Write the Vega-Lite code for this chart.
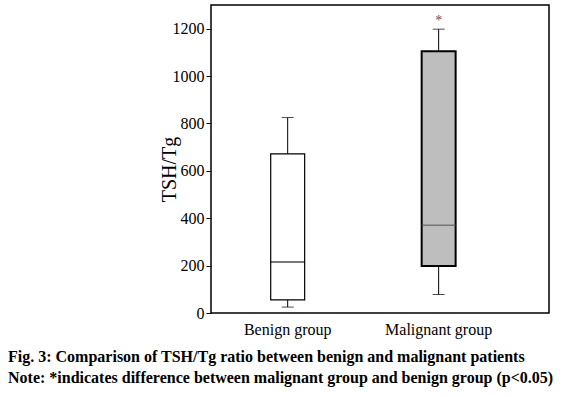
{
  "$schema": "https://vega.github.io/schema/vega-lite/v6.json",
  "autosize": {"type": "none"},
  "width": 338,
  "height": 308,
  "padding": {"left": 211, "top": 5, "right": 15, "bottom": 84},
  "background": "white",
  "config": {
    "view": {"stroke": "black", "strokeWidth": 1.5},
    "font": "Liberation Serif"
  },
  "title": {
    "text": ["Fig. 3: Comparison of TSH/Tg ratio between benign and malignant patients", "Note: *indicates difference between malignant group and benign group (p<0.05)"],
    "orient": "bottom",
    "anchor": "start",
    "frame": "group",
    "dx": -203,
    "offset": 12,
    "font": "Liberation Serif",
    "fontSize": 16,
    "fontWeight": "bold",
    "color": "black",
    "lineHeight": 21
  },
  "data": {
    "values": [
      {"group": "Benign group", "min": 25, "q1": 55, "median": 215, "q3": 672, "max": 825, "star": null},
      {"group": "Malignant group", "min": 78, "q1": 198, "median": 370, "q3": 1105, "max": 1198, "star": 1232}
    ]
  },
  "encoding": {
    "x": {
      "field": "group",
      "type": "nominal",
      "sort": ["Benign group", "Malignant group"],
      "scale": {"type": "band", "paddingInner": 0.775, "paddingOuter": 0.507, "align": 0.39},
      "axis": {
        "title": null,
        "labelAngle": 0,
        "ticks": false,
        "domain": false,
        "labelPadding": 8,
        "labelFont": "Liberation Serif",
        "labelFontSize": 16,
        "labelColor": "black"
      }
    }
  },
  "layer": [
    {
      "mark": {"type": "rule", "color": "black", "strokeWidth": 1},
      "encoding": {
        "y": {
          "field": "min",
          "type": "quantitative",
          "scale": {"domain": [0, 1300], "nice": false},
          "axis": {
            "title": "TSH/Tg",
            "values": [0, 200, 400, 600, 800, 1000, 1200],
            "format": "d",
            "grid": false,
            "domain": false,
            "tickSize": 5,
            "tickColor": "black",
            "labelFont": "Liberation Serif",
            "labelFontSize": 16,
            "labelColor": "black",
            "labelPadding": 2,
            "titleFont": "Liberation Serif",
            "titleFontSize": 20,
            "titleFontWeight": "normal",
            "titleColor": "black",
            "titleX": -36,
            "titleY": 164,
            "titleAngle": -90,
            "titleAlign": "center",
            "titleBaseline": "alphabetic"
          }
        },
        "y2": {"field": "max"}
      }
    },
    {
      "mark": {"type": "bar", "stroke": "black"},
      "encoding": {
        "y": {"field": "q1", "type": "quantitative"},
        "y2": {"field": "q3"},
        "fill": {
          "field": "group",
          "type": "nominal",
          "scale": {"domain": ["Benign group", "Malignant group"], "range": ["#ffffff", "#bebebe"]},
          "legend": null
        },
        "strokeWidth": {
          "field": "group",
          "type": "nominal",
          "scale": {"domain": ["Benign group", "Malignant group"], "range": [1.2, 2]},
          "legend": null
        }
      }
    },
    {
      "mark": {"type": "tick", "size": 34, "thickness": 1.5},
      "encoding": {
        "y": {"field": "median", "type": "quantitative"},
        "color": {
          "field": "group",
          "type": "nominal",
          "scale": {"domain": ["Benign group", "Malignant group"], "range": ["#000000", "#555555"]},
          "legend": null
        }
      }
    },
    {
      "mark": {"type": "tick", "size": 12, "thickness": 1, "color": "black"},
      "encoding": {"y": {"field": "min", "type": "quantitative"}}
    },
    {
      "mark": {"type": "tick", "size": 12, "thickness": 1, "color": "black"},
      "encoding": {"y": {"field": "max", "type": "quantitative"}}
    },
    {
      "transform": [{"filter": "datum.star != null"}],
      "mark": {"type": "text", "text": "*", "fontSize": 14, "font": "Liberation Serif", "fill": "#555555", "baseline": "middle"},
      "encoding": {"y": {"field": "star", "type": "quantitative"}}
    }
  ]
}
